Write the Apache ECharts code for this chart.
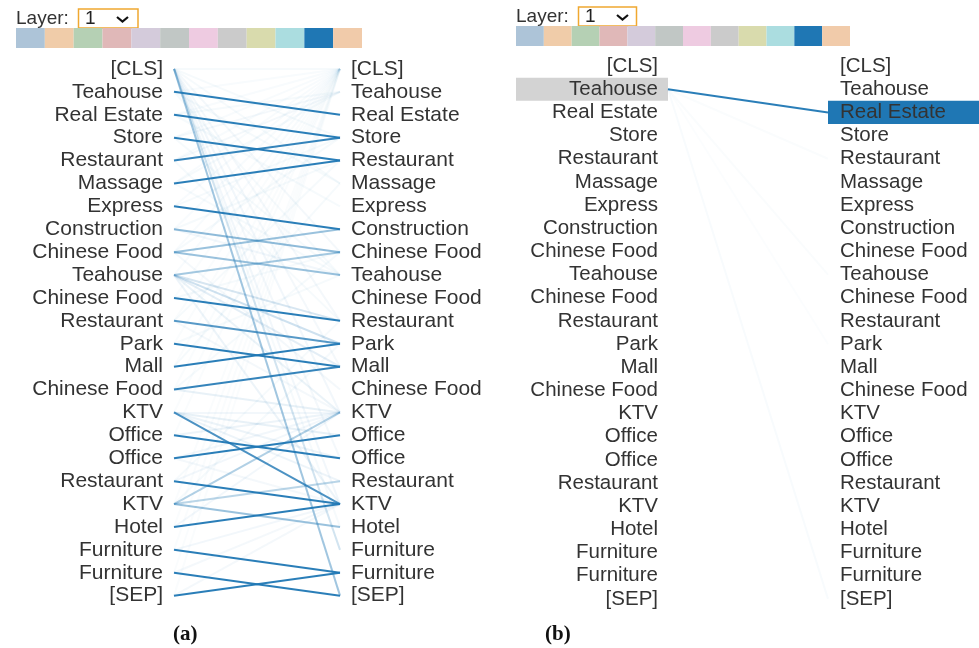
<!DOCTYPE html>
<html>
<head>
<meta charset="utf-8">
<script src="https://cdn.jsdelivr.net/npm/echarts@6/dist/echarts.min.js"></script>
<style>
  html, body { margin: 0; padding: 0; background: #fff; }
  #chart { width: 979px; height: 648px; }
</style>
</head>
<body>
<div id="chart"></div>
<script>
// tokens of the sentence, same on both sides
const tokens = ['[CLS]', 'Teahouse', 'Real Estate', 'Store', 'Restaurant', 'Massage', 'Express',
  'Construction', 'Chinese Food', 'Teahouse', 'Chinese Food', 'Restaurant', 'Park', 'Mall',
  'Chinese Food', 'KTV', 'Office', 'Office', 'Restaurant', 'KTV', 'Hotel', 'Furniture',
  'Furniture', '[SEP]'];

// head colour boxes (11th head is the selected one)
const heads = ['h1', 'h2', 'h3', 'h4', 'h5', 'h6', 'h7', 'h8', 'h9', 'h10', 'h11', 'h12'];
const headColors = ['#adc4d8', '#f0cca9', '#b5d0b4', '#e0b8b8', '#d4cbdb', '#c1c7c5',
  '#eecbe1', '#cbcbcb', '#d9dbad', '#abdde0', '#1f77b4', '#f1cbaa'];

// (a) attention links: [from, to, weight]
const strongA = [
  [1, 2, 0.95], [2, 3, 0.95], [3, 4, 0.95], [4, 3, 0.9], [5, 4, 0.95], [6, 7, 0.95],
  [10, 11, 0.95], [11, 12, 0.75], [12, 13, 0.95], [13, 12, 0.95], [14, 13, 0.9],
  [15, 19, 0.8], [16, 17, 0.95], [17, 16, 0.95], [18, 19, 0.95], [20, 19, 0.95],
  [21, 22, 0.95], [22, 23, 0.95], [23, 22, 0.95]
];
const mediumA = [
  [0, 23, 0.42], [0, 21, 0.2], [7, 8, 0.5], [8, 7, 0.45], [8, 9, 0.45], [9, 8, 0.4],
  [9, 11, 0.18], [9, 12, 0.22], [9, 13, 0.12], [19, 15, 0.35], [19, 18, 0.3], [19, 20, 0.45]
];
const faintA = [
  [0, 0, 0.04], [0, 3, 0.04], [0, 5, 0.04], [0, 8, 0.05], [0, 11, 0.05], [0, 13, 0.05],
  [0, 15, 0.06], [0, 17, 0.05], [0, 19, 0.06], [0, 20, 0.04],
  [1, 0, 0.03], [1, 5, 0.04], [1, 9, 0.04], [2, 0, 0.03], [2, 1, 0.04], [2, 6, 0.04],
  [3, 1, 0.05], [3, 0, 0.03], [3, 9, 0.04], [4, 1, 0.05], [4, 0, 0.03], [4, 11, 0.04],
  [5, 0, 0.03], [5, 1, 0.04], [5, 9, 0.04], [6, 0, 0.03], [6, 3, 0.04],
  [7, 0, 0.03], [7, 4, 0.04], [7, 9, 0.06], [8, 0, 0.03], [8, 3, 0.04], [8, 14, 0.05],
  [9, 15, 0.09], [9, 0, 0.03], [9, 19, 0.08], [10, 0, 0.025], [10, 8, 0.04],
  [11, 0, 0.025], [11, 4, 0.04], [11, 15, 0.05], [12, 0, 0.025], [12, 9, 0.04],
  [13, 0, 0.025], [13, 5, 0.04], [14, 15, 0.1], [14, 0, 0.025], [14, 8, 0.04],
  [15, 16, 0.1], [15, 17, 0.08], [15, 18, 0.08], [15, 15, 0.06], [15, 0, 0.025],
  [16, 15, 0.08], [16, 0, 0.025], [17, 15, 0.06], [17, 19, 0.05], [18, 15, 0.06], [18, 11, 0.04],
  [19, 0, 0.025], [19, 12, 0.04], [20, 15, 0.06], [20, 0, 0.025], [21, 19, 0.06], [21, 0, 0.025],
  [22, 19, 0.05], [22, 0, 0.025], [23, 0, 0.025], [23, 19, 0.05]
];

// (b) links of the selected token "Teahouse"
const linksB = [[1, 2, 0.95], [1, 4, 0.025], [1, 9, 0.025], [1, 23, 0.03], [1, 12, 0.015]];
const selectedB = [[0, 1, 'src'], [1, 2, 'tgt']];

const blue = '#1f77b4';
const labelFont = 'Liberation Sans, Arial, sans-serif';

function toLines(list) {
  return list.map(function (d) {
    return { coords: [[0, d[0]], [1, d[1]]], lineStyle: { opacity: d[2] } };
  });
}

function tokenAxis(grid, pos, size, margin) {
  return {
    type: 'category', gridIndex: grid, position: pos, data: tokens, inverse: true,
    axisLine: { show: false }, axisTick: { show: false }, splitLine: { show: false },
    axisLabel: { interval: 0, margin: margin, color: '#333', fontSize: size, fontFamily: labelFont }
  };
}

// "Layer: [1 v]" picker, y is the top of the select box
function layerPicker(x, y, w) {
  return [
    { type: 'text', x: x, y: y,
      style: { text: 'Layer:', fill: '#333', font: '19px Liberation Sans, Arial, sans-serif' } },
    { type: 'rect', shape: { x: x + 62.5, y: y, width: w, height: 19 },
      style: { fill: '#fff', stroke: '#f0a830', lineWidth: 1.5 } },
    { type: 'text', x: x + 69, y: y,
      style: { text: '1', fill: '#222', font: '19px Liberation Sans, Arial, sans-serif' } },
    { type: 'polyline', shape: { points: [[x + 101, y + 8], [x + 106.5, y + 12.5], [x + 112, y + 8]] },
      style: { stroke: '#111', lineWidth: 2.2, fill: null } }
  ];
}

const chart = echarts.init(document.getElementById('chart'));
chart.setOption({
  animation: false,
  backgroundColor: '#fff',
  grid: [
    { left: 174, top: 57.5, width: 166, height: 549.6 },
    { left: 668, top: 54.5, width: 160, height: 556 },
    { left: 16, top: 28, width: 346, height: 20 },
    { left: 516, top: 26, width: 334, height: 20 }
  ],
  xAxis: [
    { type: 'value', gridIndex: 0, min: 0, max: 1, show: false },
    { type: 'value', gridIndex: 1, min: 0, max: 1, show: false },
    { type: 'category', gridIndex: 2, data: heads, show: false },
    { type: 'category', gridIndex: 3, data: heads, show: false }
  ],
  yAxis: [
    tokenAxis(0, 'left', 21, 11),
    tokenAxis(0, 'right', 21, 11),
    tokenAxis(1, 'left', 20.5, 10),
    tokenAxis(1, 'right', 20.5, 12),
    { type: 'value', gridIndex: 2, min: 0, max: 1, show: false },
    { type: 'value', gridIndex: 3, min: 0, max: 1, show: false }
  ],
  graphic: layerPicker(16, 9, 59.5).concat(layerPicker(516, 7, 58)).concat([
    { type: 'text', x: 173, y: 624,
      style: { text: '(a)', fill: '#111', fontSize: 21, fontWeight: 'bold', fontFamily: 'Liberation Serif, serif' } },
    { type: 'text', x: 545, y: 624,
      style: { text: '(b)', fill: '#111', fontSize: 21, fontWeight: 'bold', fontFamily: 'Liberation Serif, serif' } }
  ]),
  series: [
    {
      type: 'lines', coordinateSystem: 'cartesian2d', xAxisIndex: 0, yAxisIndex: 0,
      lineStyle: { color: blue, width: 2 }, silent: true,
      data: toLines(faintA.concat(mediumA).concat(strongA))
    },
    {
      type: 'custom', coordinateSystem: 'cartesian2d', xAxisIndex: 1, yAxisIndex: 2, z: -1,
      clip: false, silent: true,
      data: selectedB,
      renderItem: function (params, api) {
        const p = api.coord([api.value(0), api.value(1)]);
        const h = api.size([0, 1])[1];
        const isSrc = selectedB[params.dataIndex][2] === 'src';
        return {
          type: 'rect',
          shape: { x: isSrc ? p[0] - 152 : p[0], y: p[1] - h / 2, width: isSrc ? 152 : 170, height: h },
          style: { fill: isSrc ? '#d3d3d3' : blue }
        };
      }
    },
    {
      type: 'lines', coordinateSystem: 'cartesian2d', xAxisIndex: 1, yAxisIndex: 2,
      lineStyle: { color: blue, width: 2 }, silent: true,
      data: toLines(linksB)
    },
    {
      type: 'bar', xAxisIndex: 2, yAxisIndex: 4, barCategoryGap: '0%', silent: true,
      data: headColors.map(function (c) { return { value: 1, itemStyle: { color: c } }; })
    },
    {
      type: 'bar', xAxisIndex: 3, yAxisIndex: 5, barCategoryGap: '0%', silent: true,
      data: headColors.map(function (c) { return { value: 1, itemStyle: { color: c } }; })
    }
  ]
});
</script>
</body>
</html>
